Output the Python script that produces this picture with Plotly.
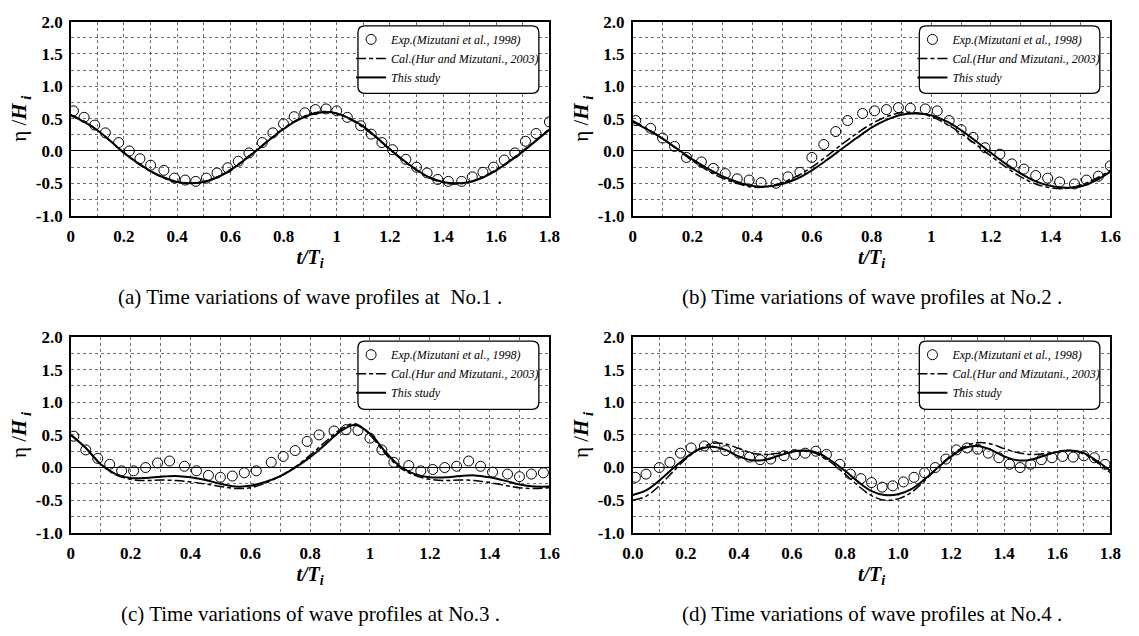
import plotly.graph_objects as go

# ---------------- data ----------------
t18 = [0.00, 0.05, 0.10, 0.15, 0.20, 0.25, 0.30, 0.35, 0.40, 0.45, 0.50, 0.55, 0.60,
       0.65, 0.70, 0.75, 0.80, 0.85, 0.90, 0.95, 1.00, 1.05, 1.10, 1.15, 1.20, 1.25,
       1.30, 1.35, 1.40, 1.45, 1.50, 1.55, 1.60, 1.65, 1.70, 1.75, 1.80]
t16 = t18[:33]

# (a) No.1
a_this = [0.55, 0.45, 0.32, 0.15, -0.03, -0.18, -0.31, -0.41, -0.48, -0.50, -0.48, -0.41, -0.30,
          -0.15, 0.01, 0.18, 0.34, 0.47, 0.56, 0.60, 0.58, 0.50, 0.38, 0.21, 0.03, -0.14,
          -0.29, -0.41, -0.48, -0.50, -0.48, -0.41, -0.30, -0.16, -0.01, 0.16, 0.33]
a_cal = [0.56, 0.46, 0.32, 0.15, -0.03, -0.19, -0.32, -0.42, -0.48, -0.50, -0.47, -0.40, -0.29,
         -0.14, 0.02, 0.19, 0.35, 0.48, 0.57, 0.61, 0.58, 0.49, 0.36, 0.20, 0.02, -0.15,
         -0.30, -0.42, -0.49, -0.51, -0.48, -0.40, -0.29, -0.15, 0.00, 0.17, 0.34]
a_exp_t = [0.01, 0.05, 0.09, 0.13, 0.18, 0.22, 0.26, 0.30, 0.35, 0.39, 0.43, 0.47, 0.51, 0.55,
           0.59, 0.63, 0.67, 0.72, 0.76, 0.80, 0.84, 0.88, 0.92, 0.96, 1.00, 1.04, 1.09, 1.13,
           1.17, 1.21, 1.26, 1.30, 1.34, 1.38, 1.42, 1.47, 1.51, 1.55, 1.59, 1.63, 1.67, 1.71,
           1.75, 1.80]
a_exp = [0.62, 0.52, 0.40, 0.28, 0.13, 0.00, -0.12, -0.22, -0.30, -0.42, -0.45, -0.47, -0.42, -0.34,
         -0.26, -0.16, -0.03, 0.13, 0.28, 0.42, 0.53, 0.59, 0.64, 0.65, 0.62, 0.52, 0.39, 0.26,
         0.13, 0.02, -0.13, -0.25, -0.34, -0.44, -0.47, -0.47, -0.40, -0.33, -0.25, -0.14, -0.03, 0.15,
         0.27, 0.45]

# (b) No.2
b_this = [0.45, 0.33, 0.19, 0.03, -0.13, -0.27, -0.39, -0.48, -0.54, -0.55, -0.51, -0.43, -0.30,
          -0.14, 0.03, 0.20, 0.36, 0.48, 0.56, 0.58, 0.55, 0.46, 0.32, 0.15, -0.03, -0.20,
          -0.35, -0.47, -0.54, -0.57, -0.55, -0.46, -0.32]
b_cal = [0.47, 0.34, 0.19, 0.02, -0.15, -0.30, -0.42, -0.50, -0.56, -0.55, -0.49, -0.39, -0.25,
         -0.08, 0.10, 0.27, 0.42, 0.53, 0.59, 0.59, 0.53, 0.42, 0.27, 0.10, -0.08, -0.25,
         -0.40, -0.51, -0.57, -0.58, -0.53, -0.43, -0.30]
b_exp_t = [0.01, 0.06, 0.10, 0.14, 0.18, 0.23, 0.27, 0.31, 0.35, 0.39, 0.43, 0.48, 0.52, 0.56,
           0.60, 0.64, 0.68, 0.72, 0.77, 0.81, 0.85, 0.89, 0.93, 0.98, 1.02, 1.06, 1.10, 1.14,
           1.18, 1.23, 1.27, 1.31, 1.35, 1.39, 1.43, 1.48, 1.52, 1.56, 1.60]
b_exp = [0.47, 0.35, 0.20, 0.07, -0.10, -0.17, -0.27, -0.35, -0.43, -0.45, -0.49, -0.50, -0.40, -0.33,
         -0.10, 0.10, 0.30, 0.47, 0.58, 0.62, 0.64, 0.67, 0.66, 0.65, 0.62, 0.47, 0.33, 0.21,
         0.05, -0.05, -0.20, -0.28, -0.38, -0.42, -0.48, -0.51, -0.45, -0.39, -0.23]

# (c) No.3
c_this = [0.50, 0.30, 0.05, -0.10, -0.16, -0.16, -0.14, -0.13, -0.15, -0.19, -0.25, -0.29, -0.28,
          -0.22, -0.13, 0.00, 0.16, 0.35, 0.55, 0.65, 0.52, 0.25, 0.02, -0.10, -0.15, -0.15,
          -0.13, -0.12, -0.15, -0.20, -0.26, -0.29, -0.29]
c_cal = [0.50, 0.30, 0.05, -0.11, -0.18, -0.20, -0.19, -0.20, -0.22, -0.25, -0.29, -0.32, -0.31,
         -0.24, -0.13, 0.01, 0.19, 0.39, 0.58, 0.67, 0.50, 0.22, 0.00, -0.12, -0.18, -0.20,
         -0.19, -0.20, -0.23, -0.27, -0.31, -0.32, -0.31]
c_exp_t = [0.01, 0.05, 0.09, 0.13, 0.17, 0.21, 0.25, 0.29, 0.33, 0.38, 0.42, 0.46, 0.50, 0.54,
           0.58, 0.62, 0.67, 0.71, 0.75, 0.79, 0.83, 0.88, 0.92, 0.96, 1.00, 1.04, 1.08, 1.13,
           1.17, 1.21, 1.25, 1.29, 1.33, 1.37, 1.41, 1.46, 1.50, 1.54, 1.58]
c_exp = [0.48, 0.27, 0.14, 0.05, -0.05, -0.05, 0.00, 0.07, 0.10, 0.02, -0.05, -0.12, -0.15, -0.13,
         -0.08, -0.05, 0.08, 0.17, 0.26, 0.40, 0.50, 0.56, 0.58, 0.57, 0.45, 0.27, 0.08, 0.03,
         -0.05, -0.03, 0.00, 0.02, 0.10, 0.02, -0.07, -0.10, -0.14, -0.10, -0.08]

# (d) No.4
d_this = [-0.42, -0.35, -0.20, -0.02, 0.15, 0.28, 0.32, 0.27, 0.17, 0.11, 0.12, 0.18, 0.24,
          0.26, 0.22, 0.10, -0.05, -0.22, -0.36, -0.42, -0.41, -0.33, -0.18, 0.00, 0.17, 0.30,
          0.33, 0.27, 0.17, 0.11, 0.12, 0.18, 0.24, 0.26, 0.22, 0.10, -0.05]
d_cal = [-0.50, -0.44, -0.28, -0.07, 0.13, 0.28, 0.37, 0.36, 0.29, 0.22, 0.20, 0.22, 0.25,
         0.25, 0.20, 0.07, -0.10, -0.28, -0.43, -0.50, -0.48, -0.38, -0.20, 0.00, 0.19, 0.32,
         0.38, 0.36, 0.29, 0.23, 0.20, 0.21, 0.24, 0.26, 0.21, 0.08, -0.08]
d_exp_t = [0.01, 0.05, 0.10, 0.14, 0.18, 0.22, 0.27, 0.31, 0.35, 0.40, 0.44, 0.48, 0.52, 0.57,
           0.61, 0.65, 0.69, 0.73, 0.78, 0.82, 0.86, 0.90, 0.94, 0.98, 1.02, 1.06, 1.10, 1.14,
           1.18, 1.22, 1.26, 1.30, 1.34, 1.38, 1.42, 1.46, 1.50, 1.54, 1.58, 1.62, 1.66, 1.70,
           1.74, 1.78]
d_exp = [-0.15, -0.10, 0.00, 0.08, 0.22, 0.30, 0.33, 0.32, 0.26, 0.22, 0.16, 0.12, 0.13, 0.18,
         0.20, 0.22, 0.25, 0.20, 0.05, -0.10, -0.17, -0.23, -0.30, -0.28, -0.22, -0.15, -0.08, 0.00,
         0.13, 0.27, 0.30, 0.28, 0.22, 0.15, 0.05, 0.00, 0.05, 0.12, 0.15, 0.17, 0.16, 0.18,
         0.15, 0.05]

# tick labels
ytick_vals = [-1.0, -0.5, 0.0, 0.5, 1.0, 1.5, 2.0]
ytick_text = ["-1.0", "-0.5", "0.0", "0.5", "1.0", "1.5", "2.0"]
x18_vals = [0, 0.2, 0.4, 0.6, 0.8, 1.0, 1.2, 1.4, 1.6, 1.8]
x18_text_a = ["0", "0.2", "0.4", "0.6", "0.8", "1", "1.2", "1.4", "1.6", "1.8"]
x18_text_d = ["0.0", "0.2", "0.4", "0.6", "0.8", "1.0", "1.2", "1.4", "1.6", "1.8"]
x16_vals = [0, 0.2, 0.4, 0.6, 0.8, 1.0, 1.2, 1.4, 1.6]
x16_text = ["0", "0.2", "0.4", "0.6", "0.8", "1", "1.2", "1.4", "1.6"]

legend_names = ["Exp.(Mizutani et al., 1998)", "Cal.(Hur and Mizutani., 2003)", "This study"]
captions = ["(a) Time variations of wave profiles at  No.1 .",
            "(b) Time variations of wave profiles at No.2 .",
            "(c) Time variations of wave profiles at No.3 .",
            "(d) Time variations of wave profiles at No.4 ."]

# ---------------- layout geometry ----------------
W, H = 1139, 636
XL = [61 / W, 549 / W]
XR = [634 / W, 1121 / W]
YT = [1 - 213 / H, 1 - 13 / H]
YB = [1 - 540 / H, 1 - 338 / H]

panels = [
    dict(t=t18, this=a_this, cal=a_cal, et=a_exp_t, e=a_exp, xd=XL, yd=YT, xmax=1.8,
         tv=x18_vals, tt=x18_text_a),
    dict(t=t16, this=b_this, cal=b_cal, et=b_exp_t, e=b_exp, xd=XR, yd=YT, xmax=1.6,
         tv=x16_vals, tt=x16_text),
    dict(t=t16, this=c_this, cal=c_cal, et=c_exp_t, e=c_exp, xd=XL, yd=YB, xmax=1.6,
         tv=x16_vals, tt=x16_text),
    dict(t=t18, this=d_this, cal=d_cal, et=d_exp_t, e=d_exp, xd=XR, yd=YB, xmax=1.8,
         tv=x18_vals, tt=x18_text_d),
]

TICKFONT = dict(family="Liberation Serif", size=17, color="black", weight="bold")
GRID = "#6e6e6e"

fig = go.Figure()
for i, p in enumerate(panels):
    n = "" if i == 0 else str(i + 1)
    xa, ya = "x" + n, "y" + n
    lg = "legend" + n
    fig.add_trace(go.Scatter(x=p["et"], y=p["e"], mode="markers", name=legend_names[0],
                             marker=dict(symbol="circle-open", size=10, color="black",
                                         line=dict(width=1, color="black")),
                             xaxis=xa, yaxis=ya, legend=lg))
    fig.add_trace(go.Scatter(x=p["t"], y=p["cal"], mode="lines", name=legend_names[1],
                             line=dict(color="black", width=1.5, dash="10px,3px,4px,3px",
                                       shape="spline", smoothing=1.0),
                             xaxis=xa, yaxis=ya, legend=lg))
    fig.add_trace(go.Scatter(x=p["t"], y=p["this"], mode="lines", name=legend_names[2],
                             line=dict(color="black", width=2, shape="spline", smoothing=1.0),
                             xaxis=xa, yaxis=ya, legend=lg))

    xd, yd = p["xd"], p["yd"]
    fig.layout["xaxis" + n] = dict(
        domain=xd, anchor=ya, range=[0, p["xmax"]], tickvals=p["tv"], ticktext=p["tt"],
        showline=True, mirror=True, linecolor="black", linewidth=1.5, ticks="",
        showgrid=True, gridcolor=GRID, griddash="dot", gridwidth=1,
        minor=dict(dtick=0.1, tick0=0, showgrid=True, gridcolor=GRID, griddash="dot", gridwidth=1),
        tickfont=TICKFONT, zeroline=False, ticklabelstandoff=4,
        title=dict(text="<b><i>t/T</i></b><sub><b><i>i</i></b></sub>",
                   font=dict(family="Liberation Serif", size=20, color="black"), standoff=5),
    )
    fig.layout["yaxis" + n] = dict(
        domain=yd, anchor=xa, range=[-1.0, 2.0], tickvals=ytick_vals, ticktext=ytick_text,
        showline=True, mirror=True, linecolor="black", linewidth=1.5, ticks="",
        showgrid=True, gridcolor=GRID, griddash="dot", gridwidth=1,
        minor=dict(dtick=0.25, tick0=0, showgrid=True, gridcolor=GRID, griddash="dot", gridwidth=1),
        tickfont=TICKFONT, zeroline=True, zerolinecolor="black", zerolinewidth=1.2,
        ticklabelstandoff=3,
        title=dict(text="η /<b><i>H</i></b><sub><b><i> i</i></b></sub>",
                   font=dict(family="Liberation Serif", size=21, color="black"), standoff=3),
    )

    # legend box + legend
    lx0 = xd[0] + 0.600 * (xd[1] - xd[0])
    lx1 = xd[0] + 0.978 * (xd[1] - xd[0])
    ly1 = yd[0] + 0.978 * (yd[1] - yd[0])
    ly0 = yd[0] + 0.63 * (yd[1] - yd[0])
    fig.layout[lg] = dict(
        x=lx0 - 7 / W, y=ly1 + 1 / H, xanchor="left", yanchor="top", xref="paper", yref="paper",
        bgcolor="rgba(0,0,0,0)", borderwidth=0, itemwidth=30, tracegroupgap=0,
        font=dict(family="Liberation Serif", size=12, color="black", style="italic"),
    )
    rx, ry = 7 / W, 7 / H
    path = (f"M {lx0 + rx},{ly0} L {lx1 - rx},{ly0} Q {lx1},{ly0} {lx1},{ly0 + ry} "
            f"L {lx1},{ly1 - ry} Q {lx1},{ly1} {lx1 - rx},{ly1} L {lx0 + rx},{ly1} "
            f"Q {lx0},{ly1} {lx0},{ly1 - ry} L {lx0},{ly0 + ry} Q {lx0},{ly0} {lx0 + rx},{ly0} Z")
    fig.add_shape(type="path", path=path, xref="paper", yref="paper",
                  line=dict(color="black", width=1.3), fillcolor="white", layer="above")

    # caption
    fig.add_annotation(text=captions[i], x=(xd[0] + xd[1]) / 2, y=yd[0] - 84 / H,
                       xref="paper", yref="paper", showarrow=False, xanchor="center", yanchor="middle",
                       font=dict(family="Liberation Serif", size=21, color="black"))

fig.update_layout(width=W, height=H, margin=dict(l=0, r=0, t=0, b=0),
                  paper_bgcolor="white", plot_bgcolor="white", showlegend=True)

fig.write_html("out.html")
